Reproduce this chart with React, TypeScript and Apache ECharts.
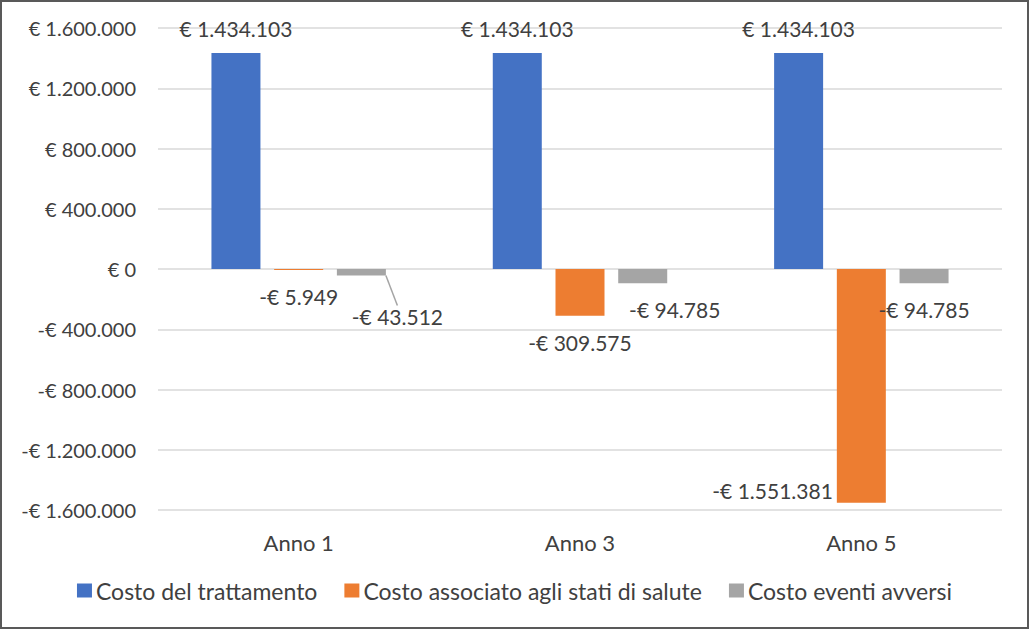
import React, { useEffect, useRef } from "react";
import * as echarts from "echarts";

const categories = ["Anno 1", "Anno 3", "Anno 5"];
const seriesNames = [
  "Costo del trattamento",
  "Costo associato agli stati di salute",
  "Costo eventi avversi",
];
const trattamento = [1434103, 1434103, 1434103];
const statiSalute = [-5949, -309575, -1551381];
const eventiAvversi = [-43512, -94785, -94785];
const yTicks = { min: -1600000, max: 1600000, interval: 400000 };

const FONT = "Lato";
const TXT = "#404040";

function fmt(v: number): string {
  const s = String(Math.round(Math.abs(v))).replace(/\B(?=(\d{3})+(?!\d))/g, ".");
  return (v < 0 ? "-" : "") + "€ " + s;
}

export default function App() {
  const ref = useRef<HTMLDivElement>(null);
  useEffect(() => {
    if (!ref.current) return;
    const chart = echarts.init(ref.current, null, { renderer: "svg" });
    const labelBase = {
      show: true,
      fontFamily: FONT,
      fontSize: 21,
      color: TXT,
      formatter: (p: any) => fmt(p.value),
    };
    const grayDx = [36, 32, 0];
    const grayDy = [14, 0, 0];
    chart.setOption({
      animation: false,
      color: ["#4472C4", "#ED7D31", "#A5A5A5"],
      grid: { left: 158, right: 27, top: 28, bottom: 119 },
      legend: {
        top: 574,
        left: "center",
        icon: "rect",
        itemWidth: 15,
        itemHeight: 14,
        itemGap: 27,
        textStyle: { fontFamily: FONT, fontSize: 23, color: TXT, padding: [0, 0, 0, -1] },
        data: seriesNames,
      },
      xAxis: {
        type: "category",
        data: categories,
        axisLine: { show: false, onZero: false },
        axisTick: { show: false },
        axisLabel: { fontFamily: FONT, fontSize: 22, color: TXT, margin: 21 },
      },
      yAxis: {
        type: "value",
        min: yTicks.min,
        max: yTicks.max,
        interval: yTicks.interval,
        axisLine: { show: false },
        axisTick: { show: false },
        splitLine: { lineStyle: { color: "#D9D9D9", width: 1.5 } },
        axisLabel: {
          fontFamily: FONT,
          fontSize: 20,
          color: TXT,
          margin: 22,
          formatter: (v: number) => fmt(v),
        },
      },
      series: [
        {
          name: seriesNames[0],
          type: "bar",
          data: trattamento,
          barWidth: 49,
          barGap: "28%",
          label: { ...labelBase, position: "top", distance: 14 },
        },
        {
          name: seriesNames[1],
          type: "bar",
          data: statiSalute.map((v, i) =>
            i === 2
              ? {
                  value: v,
                  label: {
                    position: [-4, "100%"],
                    align: "right",
                    verticalAlign: "bottom",
                    offset: [0, -2],
                  },
                }
              : v
          ),
          barWidth: 49,
          barGap: "28%",
          label: { ...labelBase, position: "bottom", distance: 16 },
        },
        {
          name: seriesNames[2],
          type: "bar",
          data: eventiAvversi.map((v, i) => ({
            value: v,
            labelLine: { show: i === 0 },
          })),
          barWidth: 49,
          barGap: "28%",
          label: { ...labelBase, position: "bottom", distance: 16 },
          labelLine: { show: true, lineStyle: { color: "#A5A5A5", width: 1.5 } },
          labelLayout: (p: any) => ({ dx: grayDx[p.dataIndex], dy: grayDy[p.dataIndex] }),
        },
      ],
    });
    return () => chart.dispose();
  }, []);
  return (
    <div
      style={{
        position: "absolute",
        left: 0,
        top: 0,
        width: 1029,
        height: 629,
        boxSizing: "border-box",
        border: "2px solid #595959",
        background: "#fff",
      }}
    >
      <div ref={ref} style={{ position: "absolute", left: -2, top: -2, width: 1029, height: 629 }} />
    </div>
  );
}
